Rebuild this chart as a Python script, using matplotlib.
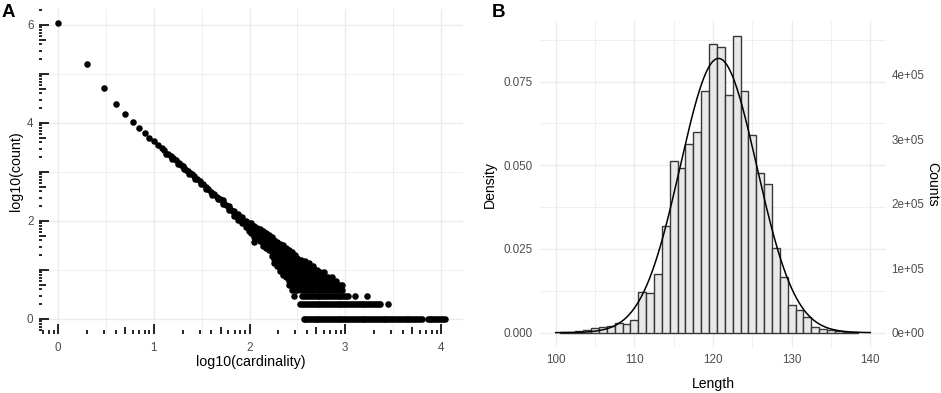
import numpy as np
import matplotlib.pyplot as plt
from matplotlib.ticker import MultipleLocator, FixedLocator

plt.rcParams['font.family'] = ['Liberation Sans', 'DejaVu Sans']

# ---------------- panel A: log10(count) vs log10(cardinality) ----------------
# first cardinalities, one dot each
head_x = [0.0, 0.301, 0.477, 0.602, 0.699, 0.778, 0.845, 0.903, 0.954, 1.0]
head_y = [6.05, 5.20, 4.71, 4.39, 4.18, 4.01, 3.89, 3.79, 3.70, 3.63]

# the narrow ridge between 10 and 100
ridge_x = [1.04, 1.08, 1.11, 1.15, 1.18, 1.20, 1.23, 1.26, 1.28, 1.30, 1.32, 1.34,
           1.36, 1.38, 1.40, 1.42, 1.45, 1.48, 1.51, 1.54, 1.57, 1.60, 1.63, 1.66,
           1.69, 1.72, 1.75, 1.78, 1.81, 1.84, 1.87, 1.90, 1.93, 1.96, 1.99,
           1.13, 1.19, 1.25, 1.31, 1.37, 1.43, 1.49, 1.55, 1.61, 1.67,
           1.72, 1.78, 1.84, 1.88, 1.92, 1.96, 1.99,
           1.72, 1.78, 1.84, 1.88, 1.92, 1.96, 1.99]
ridge_y = [3.56, 3.49, 3.44, 3.37, 3.32, 3.29, 3.24, 3.19, 3.15, 3.12, 3.08, 3.05,
           3.01, 2.98, 2.95, 2.91, 2.86, 2.81, 2.76, 2.70, 2.65, 2.60, 2.55, 2.49,
           2.44, 2.38, 2.33, 2.27, 2.22, 2.16, 2.10, 2.05, 1.99, 1.93, 1.88,
           3.36, 3.27, 3.17, 3.06, 2.96, 2.86, 2.75, 2.65, 2.54, 2.44,
           2.42, 2.31, 2.21, 2.14, 2.08, 2.00, 1.96,
           2.34, 2.22, 2.10, 2.03, 1.95, 1.87, 1.80]

# the spread-out cloud between 100 and 1000
cloud_x = ([2.02] * 4 + [2.05] * 5 + [2.08] * 4 + [2.11] * 4 + [2.14] * 5 + [2.17] * 5 +
           [2.20] * 5 + [2.23] * 6 + [2.26] * 7 + [2.29] * 7 + [2.32] * 8 + [2.35] * 9 +
           [2.38] * 9 + [2.41] * 10 + [2.44] * 11 + [2.47] * 11 + [2.50] * 10 +
           [2.54] * 10 + [2.58] * 9 + [2.62] * 9 + [2.66] * 8 + [2.70] * 7 +
           [2.74] * 6 + [2.78] * 6 + [2.82] * 4 + [2.86] * 4 + [2.90] * 3 +
           [2.94] * 2 + [2.97] * 2)
cloud_y = [1.95, 1.88, 1.82, 1.76,
           1.90, 1.83, 1.76, 1.68, 1.58,
           1.86, 1.79, 1.72, 1.64,
           1.84, 1.76, 1.68, 1.60,
           1.80, 1.72, 1.64, 1.56, 1.48,
           1.75, 1.68, 1.60, 1.52, 1.44,
           1.71, 1.64, 1.56, 1.48, 1.40,
           1.67, 1.60, 1.52, 1.44, 1.36, 1.28,
           1.62, 1.55, 1.48, 1.40, 1.32, 1.22, 1.15,
           1.58, 1.50, 1.42, 1.34, 1.26, 1.18, 1.08,
           1.54, 1.46, 1.38, 1.30, 1.22, 1.14, 1.04, 0.98,
           1.50, 1.42, 1.34, 1.26, 1.18, 1.11, 1.04, 0.95, 0.90,
           1.45, 1.38, 1.30, 1.23, 1.15, 1.08, 1.00, 0.90, 0.85,
           1.40, 1.32, 1.25, 1.18, 1.11, 1.04, 0.95, 0.85, 0.78, 0.70,
           1.36, 1.28, 1.20, 1.13, 1.08, 1.00, 0.90, 0.85, 0.78, 0.70, 0.60,
           1.30, 1.23, 1.15, 1.08, 1.00, 0.95, 0.90, 0.85, 0.78, 0.70, 0.60,
           1.25, 1.18, 1.11, 1.04, 1.00, 0.90, 0.85, 0.78, 0.70, 0.60,
           1.20, 1.15, 1.08, 1.00, 0.95, 0.90, 0.85, 0.78, 0.70, 0.60,
           1.18, 1.11, 1.04, 0.95, 0.90, 0.85, 0.78, 0.70, 0.60,
           1.14, 1.08, 1.00, 0.95, 0.90, 0.85, 0.78, 0.70, 0.60,
           1.08, 1.04, 0.95, 0.90, 0.85, 0.78, 0.70, 0.60,
           1.00, 0.95, 0.90, 0.85, 0.78, 0.70, 0.60,
           0.95, 0.90, 0.85, 0.78, 0.70, 0.60,
           0.95, 0.90, 0.85, 0.78, 0.70, 0.60,
           0.85, 0.78, 0.70, 0.60,
           0.85, 0.78, 0.70, 0.60,
           0.78, 0.70, 0.60,
           0.70, 0.60,
           0.70, 0.60]

# rows of cardinalities seen 3, 2 and 1 times
row3_x = [2.465, 2.55, 2.57, 2.59, 2.61, 2.63, 2.65, 2.67, 2.69, 2.71, 2.73, 2.75,
          2.77, 2.79, 2.81, 2.83, 2.85, 2.87, 2.89, 2.91, 2.93, 2.95, 2.97, 2.99,
          3.01, 3.03, 3.10, 3.226]
row2_x = [2.53, 2.55, 2.57, 2.59, 2.61, 2.63, 2.65, 2.67, 2.69, 2.71, 2.73, 2.75,
          2.77, 2.79, 2.81, 2.83, 2.85, 2.87, 2.89, 2.91, 2.93, 2.95, 2.97, 2.99,
          3.01, 3.03, 3.05, 3.07, 3.09, 3.11, 3.13, 3.15, 3.17, 3.19, 3.21, 3.23,
          3.25, 3.27, 3.29, 3.31, 3.33, 3.35, 3.365, 3.446]
row1_x = [2.565, 2.58, 2.60, 2.62, 2.64, 2.66, 2.68, 2.70, 2.72, 2.74, 2.76, 2.78,
          2.80, 2.82, 2.84, 2.86, 2.88, 2.90, 2.92, 2.94, 2.96, 2.98, 3.00, 3.02,
          3.04, 3.06, 3.08, 3.10, 3.12, 3.14, 3.16, 3.18, 3.20, 3.22, 3.24, 3.26,
          3.28, 3.30, 3.32, 3.34, 3.36, 3.38, 3.40, 3.42, 3.44, 3.46, 3.48, 3.50,
          3.52, 3.54, 3.56, 3.58, 3.60, 3.62, 3.64, 3.66, 3.68, 3.70, 3.72, 3.74,
          3.76, 3.78, 3.80,
          3.86, 3.88, 3.90, 3.92, 3.94, 3.96, 3.98, 4.00, 4.02, 4.045]

# ---------------- panel B: read length histogram ----------------
length_bins = list(range(101, 139))
density = [0.0001, 0.0002, 0.0004, 0.0008, 0.0013, 0.0016, 0.0019, 0.0029, 0.0026,
           0.0038, 0.0122, 0.0117, 0.0175, 0.0319, 0.0514, 0.0493, 0.0565, 0.0600,
           0.0723, 0.0862, 0.0852, 0.0710, 0.0886, 0.0723, 0.0590, 0.0478, 0.0444,
           0.0252, 0.0167, 0.0083, 0.0068, 0.0048, 0.0016, 0.0011, 0.0007, 0.0004,
           0.0003, 0.0002]
fit_mean, fit_sd = 120.7, 4.87
total_reads = 5.19e6

W, H = 941, 393
fig = plt.figure(figsize=(W / 100, H / 100), dpi=100)
grey_txt = '#4D4D4D'
grid_c = '#EBEBEB'


def minimal(ax):
    for s in ax.spines.values():
        s.set_visible(False)
    ax.grid(which='major', color=grid_c, lw=1.0, zorder=0)
    ax.grid(which='minor', color=grid_c, lw=0.55, zorder=0)
    ax.set_axisbelow(True)
    ax.tick_params(which='both', length=0, labelsize=8.4, labelcolor=grey_txt)


# ----- A -----
axA = fig.add_axes([39 / W, 1 - 333.7 / H, 424 / W, 324.9 / H])
minimal(axA)
xs = head_x + ridge_x + cloud_x + row3_x + row2_x + row1_x
ys = (head_y + ridge_y + cloud_y + [0.477] * len(row3_x) + [0.301] * len(row2_x)
      + [0.0] * len(row1_x))
axA.scatter(xs, ys, s=22, color='black', linewidths=0, zorder=3)
axA.set_xlim(-0.2, 4.23)
axA.set_ylim(-0.3, 6.33)
axA.xaxis.set_major_locator(FixedLocator([0, 1, 2, 3, 4]))
axA.xaxis.set_minor_locator(FixedLocator([0.5, 1.5, 2.5, 3.5]))
axA.yaxis.set_major_locator(FixedLocator([0, 2, 4, 6]))
axA.yaxis.set_minor_locator(FixedLocator([1, 3, 5]))
axA.tick_params(axis='x', pad=6)
axA.tick_params(axis='y', pad=4)
axA.set_xlabel('log10(cardinality)', fontsize=10.3, labelpad=1)
axA.set_ylabel('log10(count)', fontsize=10.3, labelpad=3)

# log ticks on bottom and left (long at 1, mid at 5, short otherwise)
tick_px = {1: 10.0, 5: 6.7}
hA, wA = 324.9, 424.0
for dec in range(-1, 7):
    for k in range(1, 10):
        p = dec + np.log10(k)
        L = tick_px.get(k, 3.4)
        if -0.2 <= p <= 4.23:
            axA.vlines(p, 0, L / hA, transform=axA.get_xaxis_transform(),
                       color='black', lw=1.2, zorder=4)
        if -0.3 <= p <= 6.33:
            axA.hlines(p, 0, L / wA, transform=axA.get_yaxis_transform(),
                       color='black', lw=1.2, zorder=4)

# ----- B -----
axB = fig.add_axes([540 / W, 1 - 347.4 / H, 346 / W, 326.1 / H])
minimal(axB)
axB.bar(length_bins, density, width=1.0, color='#E8E8E8', edgecolor='#383838',
        linewidth=1.0, zorder=2)
xc = np.linspace(100, 140, 500)
yc = np.exp(-0.5 * ((xc - fit_mean) / fit_sd) ** 2) / (fit_sd * np.sqrt(2 * np.pi))
axB.plot(xc, yc, color='black', lw=1.1, zorder=3)
axB.set_xlim(98, 142)
axB.set_ylim(-0.0044, 0.093)
axB.xaxis.set_major_locator(MultipleLocator(10))
axB.xaxis.set_minor_locator(FixedLocator([105, 115, 125, 135]))
axB.yaxis.set_major_locator(FixedLocator([0, 0.025, 0.05, 0.075]))
axB.yaxis.set_minor_locator(FixedLocator([0.0125, 0.0375, 0.0625, 0.0875]))
axB.set_yticklabels(['0.000', '0.025', '0.050', '0.075'])
axB.tick_params(axis='x', pad=5)
axB.tick_params(axis='y', pad=5)
axB.set_xlabel('Length', fontsize=10.1, labelpad=8)
axB.set_ylabel('Density', fontsize=10.1, labelpad=5)

sec = axB.secondary_yaxis('right', functions=(lambda d: d * total_reads,
                                               lambda c: c / total_reads))
sec.set_yticks([0, 1e5, 2e5, 3e5, 4e5])
sec.set_yticklabels(['0e+00', '1e+05', '2e+05', '3e+05', '4e+05'])
sec.tick_params(length=0, pad=4, labelsize=8.4, labelcolor=grey_txt)
for s in sec.spines.values():
    s.set_visible(False)
sec.set_ylabel('Counts', fontsize=10.1, rotation=270, labelpad=11)

fig.text(2 / W, 1 - 4 / H, 'A', fontsize=13.5, fontweight='bold', va='top')
fig.text(492 / W, 1 - 4 / H, 'B', fontsize=13.5, fontweight='bold', va='top')

fig.savefig('out.png', dpi=100)
